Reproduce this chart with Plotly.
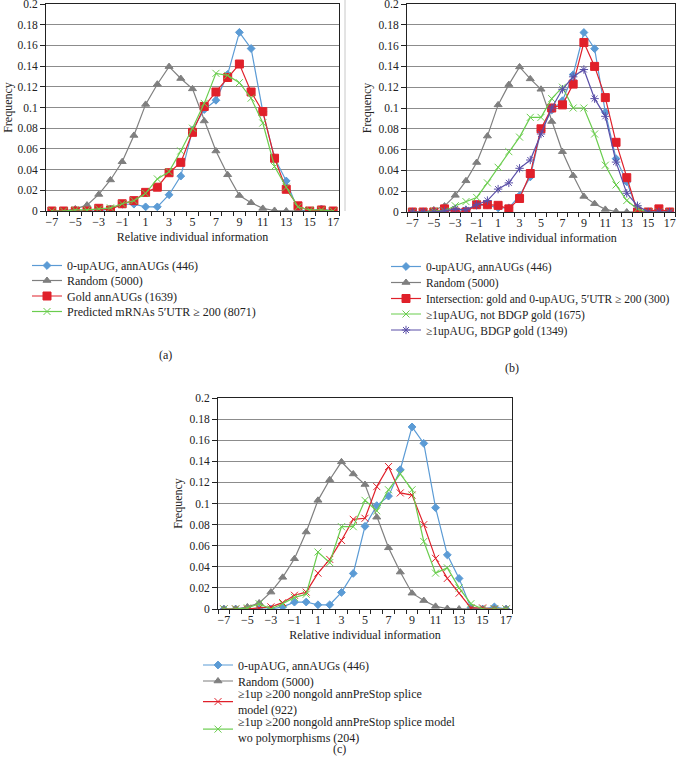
import plotly.graph_objects as go

x_vals = list(range(-7, 18))
tick_vals = list(range(-7, 18, 2))
tick_text = [str(v).replace("-", "\u2212") for v in tick_vals]
y_ticks = [0, 0.02, 0.04, 0.06, 0.08, 0.1, 0.12, 0.14, 0.16, 0.18, 0.2]
y_text = ["0", "0.02", "0.04", "0.06", "0.08", "0.1", "0.12", "0.14", "0.16", "0.18", "0.2"]

blue_0up = [0, 0, 0, 0, 0, 0.002, 0.0065, 0.0066, 0.004, 0.004, 0.0157, 0.0337, 0.0784,
            0.098, 0.107, 0.132, 0.1726, 0.157, 0.096, 0.0513, 0.029, 0.001, 0, 0.002, 0]
gray_random = [0, 0, 0.002, 0.0057, 0.016, 0.030, 0.0476, 0.073, 0.103, 0.1225, 0.1395, 0.128,
               0.118, 0.087, 0.058, 0.035, 0.015, 0.008, 0.0025, 0.0005, 0, 0, 0, 0, 0]
red_gold_a = [0, 0, 0, 0, 0.0026, 0.001, 0.007, 0.010, 0.018, 0.023, 0.037, 0.047, 0.076,
              0.101, 0.115, 0.129, 0.142, 0.115, 0.096, 0.051, 0.021, 0.005, 0, 0.001, 0]
green_pred_a = [0, 0, 0.001, 0.001, 0.002, 0.003, 0.007, 0.010, 0.017, 0.031, 0.038, 0.058, 0.080,
                0.104, 0.133, 0.131, 0.124, 0.109, 0.085, 0.043, 0.023, 0.004, 0.001, 0.001, 0]
red_inter_b = [0, 0, 0, 0.003, 0, 0, 0.007, 0.007, 0.0064, 0.003, 0.013, 0.037, 0.080,
               0.100, 0.103, 0.123, 0.163, 0.140, 0.110, 0.067, 0.033, 0, 0, 0.003, 0]
green_notgold_b = [0, 0, 0.001, 0.001, 0.006, 0.010, 0.014, 0.028, 0.043, 0.058, 0.072, 0.091, 0.091,
                   0.109, 0.120, 0.100, 0.100, 0.075, 0.045, 0.026, 0.011, 0.003, 0, 0, 0]
purple_gold_b = [0, 0, 0, 0.001, 0.003, 0.002, 0.007, 0.011, 0.022, 0.028, 0.042, 0.050, 0.075,
                 0.100, 0.118, 0.130, 0.137, 0.109, 0.092, 0.048, 0.018, 0.006, 0, 0, 0]
red_922_c = [0, 0, 0, 0.001, 0.002, 0.006, 0.013, 0.016, 0.034, 0.047, 0.065, 0.085, 0.086,
             0.116, 0.135, 0.110, 0.108, 0.080, 0.048, 0.029, 0.015, 0.001, 0.001, 0, 0]
green_204_c = [0, 0, 0.001, 0.005, 0, 0.005, 0.011, 0.014, 0.054, 0.044, 0.078, 0.078, 0.103,
               0.093, 0.113, 0.128, 0.113, 0.064, 0.034, 0.039, 0.020, 0.005, 0, 0, 0]

BLUE = "#5b9bd5"
GRAY = "#7f7f7f"
RED = "#e0202a"
GREEN = "#6acd4e"
PURPLE = "#5a4fa8"
TXT = "#222222"
FONT = "Liberation Serif"

W, H = 685, 764
LEG_OFF = 47  # legend box left -> text start (px)

fig = go.Figure()
legends = {}
counter = [0]

def add(y, name, color, symbol, size, xa, ya, text_x, text_y, fsize=12):
    counter[0] += 1
    lid = "legend" if counter[0] == 1 else "legend%d" % counter[0]
    fig.add_trace(go.Scatter(
        x=x_vals, y=y, name=name, mode="lines+markers", showlegend=True,
        line=dict(color=color, width=1.2),
        marker=dict(symbol=symbol, size=size, color=color, line=dict(color=color, width=1)),
        xaxis=xa, yaxis=ya, legend=lid))
    legends[lid] = dict(x=(text_x - LEG_OFF) / W, y=1 - text_y / H, xanchor="left", yanchor="middle",
                        font=dict(family=FONT, size=fsize, color=TXT), bgcolor="rgba(0,0,0,0)",
                        itemwidth=30, borderwidth=0, visible=True)

# (a)
add(blue_0up, "0-upAUG, annAUGs (446)", BLUE, "diamond", 6, "x", "y", 74, 265.5)
add(gray_random, "Random (5000)", GRAY, "triangle-up", 7, "x", "y", 74, 280.5)
add(red_gold_a, "Gold annAUGs (1639)", RED, "square", 8, "x", "y", 74, 296)
add(green_pred_a, "Predicted mRNAs 5\u2032UTR \u2265 200 (8071)", GREEN, "x-thin", 7, "x", "y", 74, 311.5)
# (b)
add(blue_0up, "0-upAUG, annAUGs (446)", BLUE, "diamond", 6, "x2", "y2", 433, 266.5, 11.5)
add(gray_random, "Random (5000)", GRAY, "triangle-up", 7, "x2", "y2", 433, 282.5, 11.5)
add(red_inter_b, "Intersection: gold and 0-upAUG, 5\u2032UTR \u2265 200 (300)", RED, "square", 8, "x2", "y2", 433, 298.5, 11.5)
add(green_notgold_b, "\u22651upAUG, not BDGP gold (1675)", GREEN, "x-thin", 7, "x2", "y2", 433, 314, 11.5)
add(purple_gold_b, "\u22651upAUG, BDGP gold (1349)", PURPLE, "asterisk", 7, "x2", "y2", 433, 330, 11.5)
# (c)
add(blue_0up, "0-upAUG, annAUGs (446)", BLUE, "diamond", 6, "x3", "y3", 245, 665)
add(gray_random, "Random (5000)", GRAY, "triangle-up", 7, "x3", "y3", 245, 681)
add(red_922_c, "\u22651up \u2265200 nongold annPreStop splice<br>model (922)", RED, "x-thin", 7, "x3", "y3", 245, 702)
add(green_204_c, "\u22651up \u2265200 nongold annPreStop splice model<br>wo polymorphisms (204)", GREEN, "x-thin", 7, "x3", "y3", 245, 729.5)

def xd(a, b):
    return [a / W, b / W]
def yd(top, bottom):
    return [1 - bottom / H, 1 - top / H]

def xaxis_cfg(domain, anchor):
    return dict(domain=domain, anchor=anchor, range=[-7.5, 17.5], tickvals=tick_vals, ticktext=tick_text,
                ticks="", showline=True, linecolor=TXT, linewidth=1, mirror=True, showgrid=False,
                zeroline=False, automargin=False, ticklabeloverflow="allow",
                minor=dict(tick0=-7.5, dtick=1, ticks="outside", ticklen=4, tickcolor=TXT, showgrid=False),
                tickfont=dict(family=FONT, size=12, color=TXT),
                title=dict(text="Relative individual information", font=dict(family=FONT, size=12, color=TXT),
                           standoff=4))

def yaxis_cfg(domain, anchor, standoff):
    return dict(domain=domain, anchor=anchor, range=[0, 0.2], tickvals=y_ticks, ticktext=y_text,
                ticks="outside", ticklen=5, tickcolor=TXT, showline=True, linecolor=TXT, linewidth=1,
                mirror=True, showgrid=True, gridcolor="#8c8c8c", gridwidth=1, zeroline=False,
                automargin=False, ticklabeloverflow="allow",
                tickfont=dict(family=FONT, size=11.5, color=TXT),
                title=dict(text="Frequency", font=dict(family=FONT, size=12, color=TXT), standoff=standoff))

layout = dict(
    width=W, height=H, margin=dict(l=0, r=0, t=0, b=0, autoexpand=False),
    paper_bgcolor="white", plot_bgcolor="white", showlegend=True,
    xaxis=xaxis_cfg(xd(46, 339), "y"),
    yaxis=yaxis_cfg(yd(4, 211), "x", 2),
    xaxis2=xaxis_cfg(xd(407, 675), "y2"),
    yaxis2=yaxis_cfg(yd(4, 212), "x2", 4),
    xaxis3=xaxis_cfg(xd(218, 512), "y3"),
    yaxis3=yaxis_cfg(yd(398, 609), "x3", 4),
    shapes=[dict(type="line", xref="paper", yref="paper", x0=345 / W, x1=345 / W,
                 y0=1 - 211 / H, y1=1, line=dict(color="#c8c8c8", width=1))],
    annotations=[
        dict(text="(a)", x=157 / W, y=1 - 355 / H, xref="paper", yref="paper", showarrow=False,
             font=dict(family=FONT, size=12, color=TXT)),
        dict(text="(b)", x=521 / W, y=1 - 368 / H, xref="paper", yref="paper", showarrow=False,
             font=dict(family=FONT, size=12, color=TXT)),
        dict(text="(c)", x=339 / W, y=1 - 758 / H, xref="paper", yref="paper", showarrow=False,
             font=dict(family=FONT, size=12, color=TXT)),
    ],
)
layout.update(legends)
fig.update_layout(**layout)

fig.write_html("out.html", config={"displayModeBar": False},
               post_script="document.body.style.margin='0';document.body.style.padding='0';")
